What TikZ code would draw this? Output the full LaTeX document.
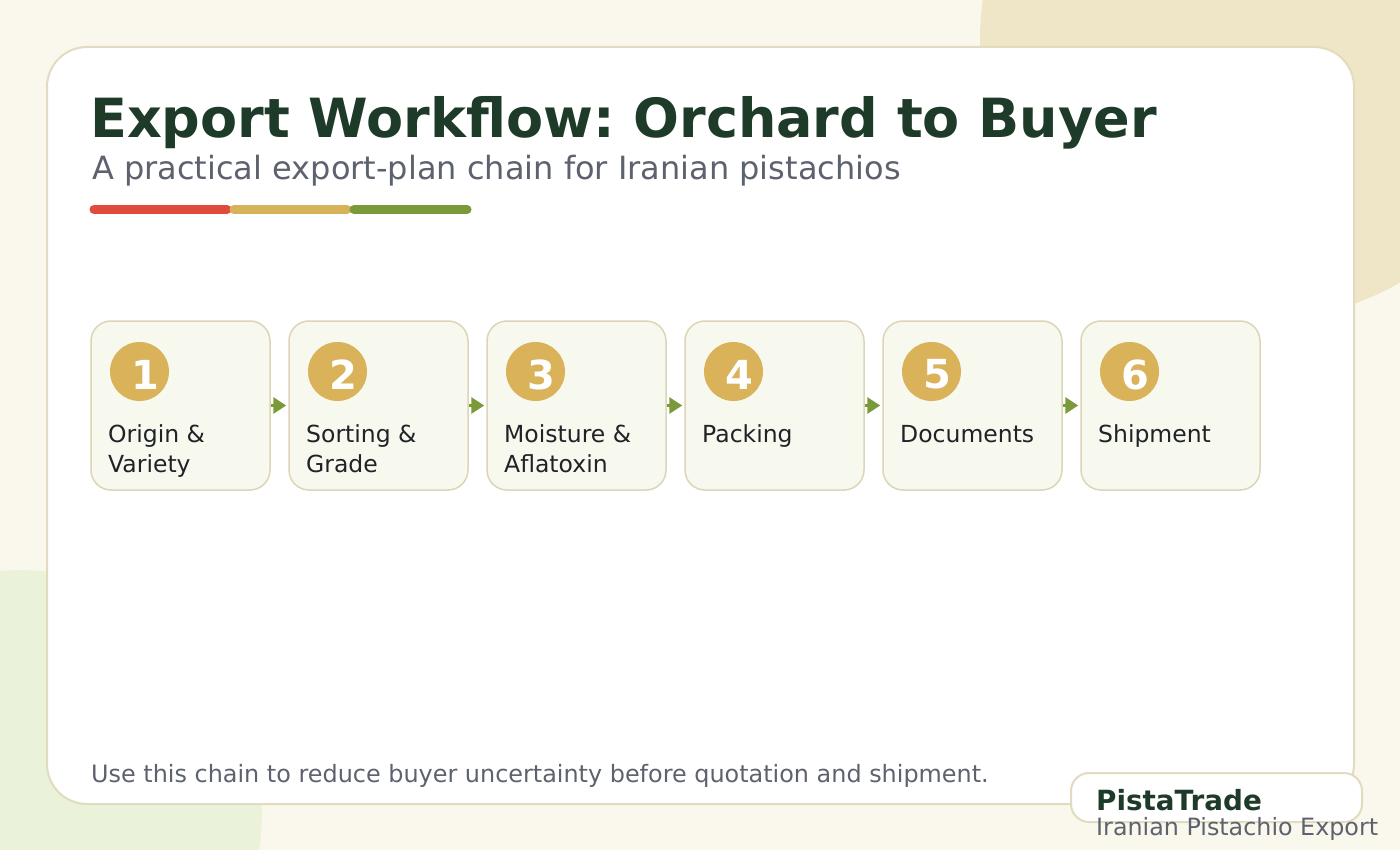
\documentclass[tikz,border=0pt]{standalone}
\usepackage{fontspec}
\setmainfont{DejaVu Sans}
\frenchspacing
\usetikzlibrary{arrows.meta}
\definecolor{bgcream}{HTML}{FAF8EC}
\definecolor{blobtan}{HTML}{EFE6C8}
\definecolor{blobgreen}{HTML}{EAF2D9}
\definecolor{cardline}{HTML}{E2DBC0}
\definecolor{titlegreen}{HTML}{1E3A28}
\definecolor{subgray}{HTML}{5D626E}
\definecolor{barred}{HTML}{E04B3C}
\definecolor{bargold}{HTML}{D6B25A}
\definecolor{bargreen}{HTML}{7A9A3A}
\definecolor{boxfill}{HTML}{F7F9EE}
\definecolor{boxline}{HTML}{DDD5B8}
\definecolor{numgold}{HTML}{D9B25A}
\definecolor{labeltext}{HTML}{1F2328}
\tikzset{
  stepbox/.style={draw=boxline, line width=1.5pt, fill=boxfill, rounded corners=20pt, minimum width=179pt, minimum height=169pt, inner sep=0pt},
  numdot/.style={circle, fill=numgold, minimum size=59pt, inner sep=0pt},
  numtext/.style={text=white, font=\fontsize{40}{40}\selectfont\bfseries, inner sep=0pt},
  steplabel/.style={anchor=base west, inner sep=0pt, text=labeltext, font=\fontsize{23.5}{29.5}\selectfont, align=left},
  flow/.style={draw=bargreen, line width=3pt, -{Triangle[length=13pt,width=16pt]}, shorten >=2pt},
}
\begin{document}
\begin{tikzpicture}[x=1pt,y=-1pt]
\useasboundingbox (0,0) rectangle (1400,850);
\fill[bgcream] (0,0) rectangle (1400,850);
\begin{scope}
\clip (0,0) rectangle (1400,850);
\fill[blobtan] (1260,40) circle (280);
\fill[blobgreen] (20,812) circle (242);
\end{scope}
% card
\draw[cardline, line width=2pt, fill=white, rounded corners=40pt] (47,47) rectangle (1354,804);
% title
\node[anchor=base west, inner sep=0pt, text=titlegreen, font=\fontsize{54}{60}\selectfont\bfseries] (title) at (90,138) {Export Workflow: Orchard to Buyer};
\node[anchor=base west, inner sep=0pt, text=subgray, font=\fontsize{32}{36}\selectfont] (subtitle) at (92,180) {A practical export-plan chain for Iranian pistachios};
% colour bars
\coordinate (r1) at (94,209.5); \coordinate (r2) at (227,209.5);
\coordinate (g1) at (234,209.5); \coordinate (g2) at (347,209.5);
\coordinate (n1) at (354,209.5); \coordinate (n2) at (467,209.5);
\draw[barred, line width=9pt, line cap=round] (r1) -- (r2);
\draw[bargold, line width=9pt, line cap=round] (g1) -- (g2);
\draw[bargreen, line width=9pt, line cap=round] (n1) -- (n2);
% steps
\foreach \i/\lab in {1/{Origin \&\\Variety},2/{Sorting \&\\Grade},3/{Moisture \&\\Aflatoxin},4/{Packing\\\mbox{}},5/{Documents\\\mbox{}},6/{Shipment\\\mbox{}}}{
  \pgfmathsetmacro{\xx}{180.5+198*(\i-1)}
  \node[stepbox] (b\i) at (\xx,405.5) {};
  \node[numdot] (c\i) at ([xshift=-41pt,yshift=34pt]b\i.center) {};
  \node[numtext] (t\i) at ([xshift=6pt,yshift=-3pt]c\i.center) {\i};
  \node[steplabel] (l\i) at ([xshift=-72.5pt,yshift=-66.5pt]b\i.center) {\lab};
}
\foreach \a/\b in {1/2,2/3,3/4,4/5,5/6}{
  \draw[flow] (b\a.east) -- (b\b.west);
}
% footer
\node[anchor=base west, inner sep=0pt, text=subgray, font=\fontsize{23.9}{28}\selectfont] (footer) at (91,782) {Use this chain to reduce buyer uncertainty before quotation and shipment.};
% logo
\node[draw=cardline, line width=2pt, fill=white, rounded corners=18pt, minimum width=291pt, minimum height=49pt, inner sep=0pt] (logo) at (1216.5,797.5) {};
\node[anchor=base west, inner sep=0pt, text=titlegreen, font=\fontsize{27.8}{30}\selectfont\bfseries] (brand) at (1096,810) {PistaTrade};
\node[anchor=base west, inner sep=0pt, text=subgray, font=\fontsize{23.8}{28}\selectfont] (tagline) at (1096,835) {Iranian Pistachio Export};
\end{tikzpicture}
\end{document}
